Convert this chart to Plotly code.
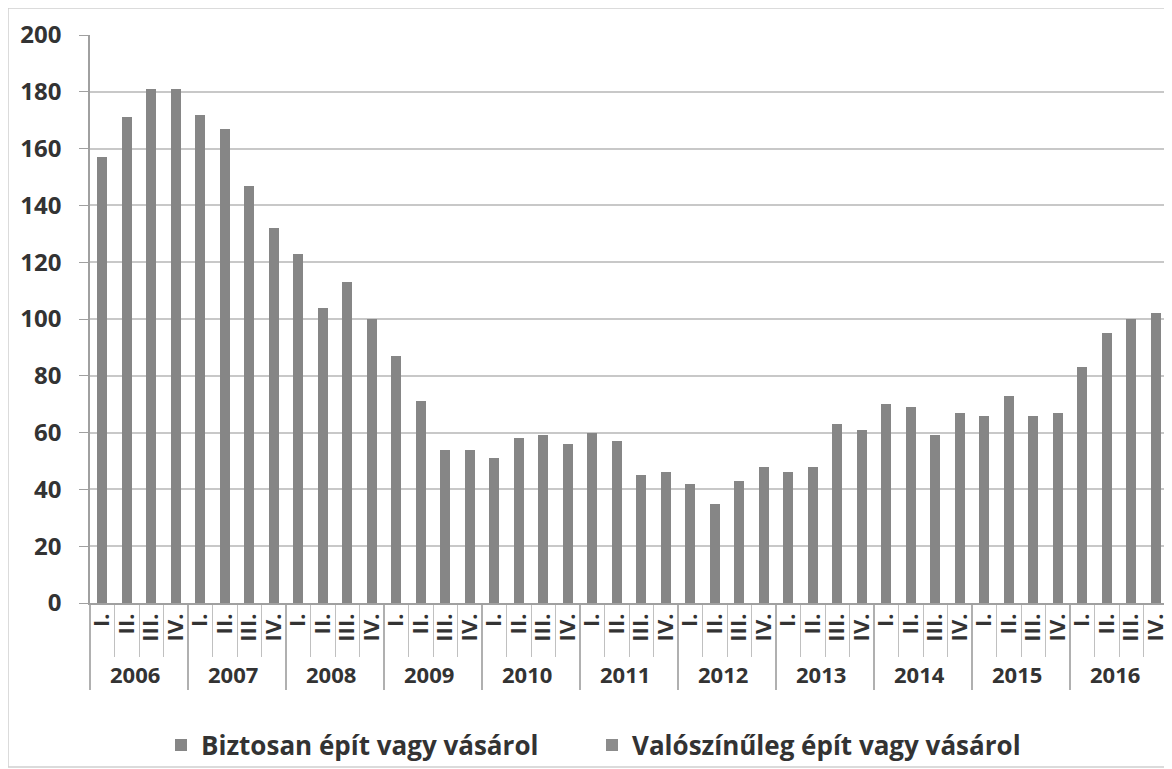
import plotly.graph_objects as go

years = ["2006", "2007", "2008", "2009", "2010", "2011", "2012", "2013", "2014", "2015", "2016"]
quarters = ["I.", "II.", "III.", "IV."]
values = [
    157, 171, 181, 181,
    172, 167, 147, 132,
    123, 104, 113, 100,
    87, 71, 54, 54,
    51, 58, 59, 56,
    60, 57, 45, 46,
    42, 35, 43, 48,
    46, 48, 63, 61,
    70, 69, 59, 67,
    66, 73, 66, 67,
    83, 95, 100, 102,
]
second = [0] * len(values)
series_names = ["Biztosan épít vagy vásárol", "Valószínűleg épít vagy vásárol"]

x_years = [y for y in years for _ in quarters]
x_q = [q for _ in years for q in quarters]

FONT = "Open Sans"
TXT = "#333333"

# page has an 8px body margin; figure sized so it ends at the window edge
W, H = 1164, 761
L, R, T, B = 82, 4, 27, 166
pw, ph = W - L - R, H - T - B

fig = go.Figure()
fig.add_trace(go.Bar(x=[x_years, x_q], y=values, name=series_names[0],
                     marker=dict(color="#868686", line=dict(width=0))))
fig.add_trace(go.Bar(x=[x_years, x_q], y=second, name=series_names[1],
                     marker=dict(color="#8c8c8c", line=dict(width=0))))

fig.update_layout(
    barmode="stack",
    bargap=0.58,
    width=W, height=H,
    margin=dict(l=L, r=R, t=T, b=B, autoexpand=False),
    paper_bgcolor="white", plot_bgcolor="white",
    font=dict(family=FONT, size=20, color=TXT),
    legend=dict(orientation="h", traceorder="normal", bgcolor="rgba(0,0,0,0)",
                x=(584 - L) / pw, xanchor="center", y=(595 - 737) / ph, yanchor="middle",
                font=dict(size=26, color=TXT, family=FONT, weight="bold"),
                itemwidth=30, entrywidth=386),
    showlegend=True,
)
fig.update_yaxes(range=[0, 200], dtick=20, showgrid=True, gridcolor="#c8c8c8", gridwidth=1.5,
                 showline=True, linecolor="#a0a0a0", linewidth=1.5,
                 ticks="outside", ticklen=9, tickcolor="#a0a0a0", ticklabelstandoff=13,
                 tickfont=dict(size=24, color=TXT, family=FONT, weight="bold"),
                 zeroline=False)
fig.update_xaxes(type="multicategory", nticks=60, showline=True, linecolor="#a0a0a0", linewidth=1.5,
                 ticks="outside", tickson="boundaries", ticklen=52, tickcolor="#c0c0c0",
                 tickangle=-90,
                 showdividers=True, dividercolor="#b0b0b0", dividerwidth=1.5,
                 tickfont=dict(size=22, color=TXT, family=FONT, weight="bold"))

fig.add_shape(type="rect", xref="paper", yref="paper",
              x0=-L / pw, x1=1 + 2 / pw, y0=(595 - 759) / ph, y1=1 + T / ph,
              line=dict(color="#d0d0d0", width=1.5), fillcolor="rgba(0,0,0,0)")

fig.write_html("out.html")
